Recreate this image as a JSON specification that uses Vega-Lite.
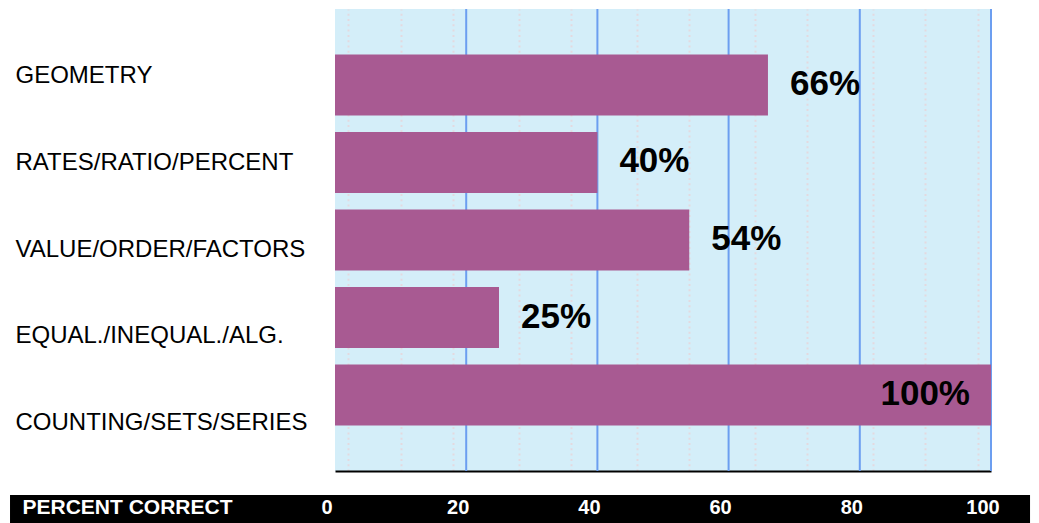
{
  "$schema": "https://vega.github.io/schema/vega-lite/v6.json",
  "padding": {"left": 10, "top": 8, "right": 9, "bottom": 0},
  "background": "white",
  "spacing": 23,
  "config": {"view": {"stroke": null}, "font": "Liberation Sans"},
  "resolve": {"scale": {"x": "independent"}},
  "vconcat": [
    {
      "width": 656,
      "height": 462,
      "view": {"fill": "#D4EEF9", "stroke": null},
      "data": {"values": [
        {"cat": "GEOMETRY", "pct": 0.66},
        {"cat": "RATES/RATIO/PERCENT", "pct": 0.40},
        {"cat": "VALUE/ORDER/FACTORS", "pct": 0.54},
        {"cat": "EQUAL./INEQUAL./ALG.", "pct": 0.25},
        {"cat": "COUNTING/SETS/SERIES", "pct": 1.0}
      ]},
      "layer": [
        {
          "layer": [
            {
              "data": {"values": [{"g": 0.2}, {"g": 0.4}, {"g": 0.6}, {"g": 0.8}, {"g": 1.0}]},
              "mark": {"type": "rule", "color": "#6C9EF0", "strokeWidth": 2},
              "encoding": {
                "x": {"field": "g", "type": "quantitative"}
              }
            },
            {
              "mark": {"type": "bar", "color": "#A85A92"},
              "encoding": {
                "x": {
                  "field": "pct", "type": "quantitative",
                  "scale": {"domain": [0, 1], "nice": false},
                  "axis": {
                    "values": [0.02,0.04,0.06,0.08,0.1,0.12,0.14,0.16,0.18,0.22,0.24,0.26,0.28,0.3,0.32,0.34,0.36,0.38,0.42,0.44,0.46,0.48,0.5,0.52,0.54,0.56,0.58,0.62,0.64,0.66,0.68,0.7,0.72,0.74,0.76,0.78,0.82,0.84,0.86,0.88,0.9,0.92,0.94,0.96,0.98],
                    "grid": true,
                    "gridColor": "#E3D9E0",
                    "gridDash": [2, 3.3],
                    "gridWidth": 2,
                    "gridOpacity": 1,
                    "labels": false,
                    "ticks": false,
                    "tickSize": 0,
                    "domain": true,
                    "domainColor": "#000000",
                    "domainWidth": 2,
                    "title": null
                  }
                },
                "y": {
                  "field": "cat", "type": "nominal", "sort": null,
                  "scale": {"type": "band", "paddingInner": 0.213, "paddingOuter": 0.587},
                  "axis": null
                }
              }
            },
            {
              "transform": [{"filter": "datum.pct < 1"}],
              "mark": {"type": "text", "align": "left", "baseline": "middle", "dx": 22, "dy": -1, "fontSize": 35, "fontWeight": "bold", "font": "Liberation Sans", "color": "#000000"},
              "encoding": {
                "x": {"field": "pct", "type": "quantitative"},
                "y": {"field": "cat", "type": "nominal", "sort": null},
                "text": {"field": "pct", "type": "quantitative", "format": ".0%"}
              }
            },
            {
              "transform": [{"filter": "datum.pct >= 1"}],
              "mark": {"type": "text", "align": "right", "baseline": "middle", "dx": -21, "dy": -1, "fontSize": 35, "fontWeight": "bold", "font": "Liberation Sans", "color": "#000000"},
              "encoding": {
                "x": {"field": "pct", "type": "quantitative"},
                "y": {"field": "cat", "type": "nominal", "sort": null},
                "text": {"field": "pct", "type": "quantitative", "format": ".0%"}
              }
            }
          ]
        },
        {
          "mark": {"type": "text", "opacity": 0},
          "encoding": {
            "text": {"value": ""},
            "y": {
              "field": "cat", "type": "nominal", "sort": null,
              "scale": {"type": "point", "range": [66.5, 413.5], "padding": 0},
              "axis": {
                "orient": "left",
                "title": null,
                "domain": false,
                "ticks": false,
                "tickSize": 0,
                "grid": false,
                "labelAlign": "left",
                "labelBaseline": "middle",
                "labelPadding": 320,
                "labelFont": "Liberation Sans",
                "labelFontSize": 24,
                "labelColor": "#000000",
                "labelLimit": 400,
                "minExtent": 325,
                "maxExtent": 400
              }
            }
          }
        }
      ],
      "resolve": {"scale": {"y": "independent"}}
    },
    {
      "width": 656,
      "height": 28,
      "view": {"fill": null, "stroke": null},
      "layer": [
        {
          "data": {"values": [{"band": "PERCENT CORRECT"}]},
          "mark": {"type": "rect", "color": "#000000"},
          "encoding": {
            "x": {
              "datum": -49.54, "type": "quantitative",
              "scale": {"domain": [0, 100], "nice": false, "zero": false},
              "axis": {
                "labels": false, "ticks": false, "domain": false, "grid": false,
                "zindex": 2,
                "title": "PERCENT CORRECT",
                "titleAnchor": "start",
                "titleAlign": "left",
                "titleBaseline": "middle",
                "titleX": -313,
                "titleY": -16,
                "titleColor": "#FFFFFF",
                "titleFont": "Liberation Sans",
                "titleFontSize": 21,
                "titleFontWeight": "bold"
              }
            },
            "x2": {"datum": 105.95}
          }
        },
        {
          "data": {"values": [{"t": 0}, {"t": 20}, {"t": 40}, {"t": 60}, {"t": 80}, {"t": 100}]},
          "mark": {"type": "text", "align": "center", "baseline": "middle", "dx": -8, "dy": -1, "fontSize": 20, "fontWeight": "bold", "font": "Liberation Sans", "color": "#FFFFFF"},
          "encoding": {
            "x": {"field": "t", "type": "quantitative"},
            "text": {"field": "t", "type": "quantitative"}
          }
        }
      ]
    }
  ]
}
